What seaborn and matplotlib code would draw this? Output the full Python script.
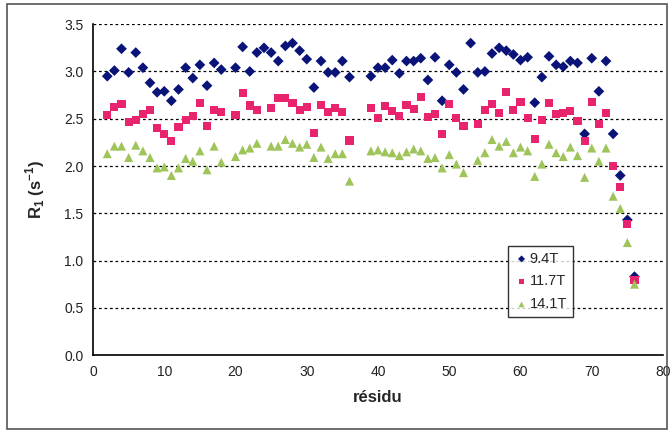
import numpy as np
import pandas as pd
import matplotlib
matplotlib.use("Agg")
import matplotlib.pyplot as plt
from matplotlib.patches import Rectangle
import seaborn as sns

nan = np.nan

# Residue numbers (prolines 19, 37, 38 and residue 1 absent)
residues = list(range(2, 19)) + list(range(20, 37)) + list(range(39, 77))

r1_94 = [2.95, 3.01, 3.24, 2.99, 3.20, 3.04, 2.88, 2.78, 2.79, 2.69, 2.81, 3.04, 2.93, 3.07, 2.85, 3.09, 3.02,
         3.04, 3.26, 3.00, 3.20, 3.25, 3.20, 3.11, 3.27, 3.30, 3.22, 3.13, 2.83, 3.11, 2.99, 2.99, 3.11, 2.94,
         2.95, 3.04, 3.04, 3.12, 2.98, 3.11, 3.11, 3.14, 2.91, 3.15, 2.69, 3.07, 2.99, 2.81, 3.30, 2.99, 3.00,
         3.19, 3.25, 3.22, 3.18, 3.12, 3.15, 2.67, 2.94, 3.16, 3.07, 3.05, 3.11, 3.09, 2.34, 3.14, 2.79, 3.11,
         2.34, 1.90, 1.43, 0.83]

r1_117 = [2.54, 2.62, 2.66, 2.47, 2.49, 2.55, 2.59, 2.40, 2.34, 2.26, 2.41, 2.49, 2.53, 2.67, 2.42, 2.59, 2.57,
          2.54, 2.77, 2.64, 2.59, nan, 2.61, 2.72, 2.72, 2.67, 2.59, 2.62, 2.35, 2.65, 2.57, 2.61, 2.57, 2.27,
          2.61, 2.51, 2.63, 2.58, 2.53, 2.65, 2.60, 2.73, 2.52, 2.55, 2.34, 2.66, 2.51, 2.42, nan, 2.44, 2.59,
          2.66, 2.56, 2.78, 2.59, 2.68, 2.51, 2.29, 2.49, 2.67, 2.55, 2.56, 2.58, 2.48, 2.26, 2.68, 2.44, 2.56,
          2.00, 1.78, 1.39, 0.79]

r1_141 = [2.13, 2.21, 2.21, 2.09, 2.22, 2.16, 2.09, 1.98, 1.99, 1.90, 1.98, 2.08, 2.05, 2.16, 1.96, 2.21, 2.04,
          2.10, 2.17, 2.19, 2.24, nan, 2.21, 2.21, 2.28, 2.24, 2.20, 2.23, 2.09, 2.20, 2.08, 2.13, 2.13, 1.84,
          2.16, 2.17, 2.15, 2.14, 2.11, 2.15, 2.18, 2.16, 2.08, 2.09, 1.98, 2.12, 2.02, 1.93, nan, 2.06, 2.14,
          2.28, 2.21, 2.26, 2.14, 2.20, 2.16, 1.89, 2.02, 2.23, 2.14, 2.10, 2.20, 2.11, 1.88, 2.19, 2.05, 2.19,
          1.68, 1.55, 1.19, 0.75]

fields = ["9.4T", "11.7T", "14.1T"]
y_ticks = [0.0, 0.5, 1.0, 1.5, 2.0, 2.5, 3.0, 3.5]
x_ticks = [0, 10, 20, 30, 40, 50, 60, 70, 80]

df = pd.concat([
    pd.DataFrame({"residu": residues, "R1": vals, "champ": name})
    for name, vals in zip(fields, [r1_94, r1_117, r1_141])
]).dropna()

sns.set_style("white")
plt.rcParams["font.family"] = ["Liberation Sans", "DejaVu Sans"]
plt.rcParams["mathtext.fontset"] = "custom"
plt.rcParams["mathtext.rm"] = "Liberation Sans"
plt.rcParams["mathtext.bf"] = "Liberation Sans:bold"

palette = {"9.4T": "#0a1478", "11.7T": "#e8246e", "14.1T": "#9ec45a"}
markers = {"9.4T": "D", "11.7T": "s", "14.1T": "^"}
sizes = {"9.4T": 30, "11.7T": 34, "14.1T": 42}

fig = plt.figure(figsize=(6.72, 4.32), dpi=100)
ax = fig.add_axes([0.1384, 0.178, 0.8482, 0.766])

for name in fields:
    sub = df[df["champ"] == name]
    sns.scatterplot(data=sub, x="residu", y="R1", color=palette[name], marker=markers[name],
                    s=sizes[name], edgecolor="none", linewidth=0, ax=ax, label=name, zorder=3)

ax.set_xlim(0, 80)
ax.set_ylim(0, 3.5)
ax.set_xticks(x_ticks)
ax.set_yticks(y_ticks)
ax.set_yticklabels([f"{v:.1f}" for v in y_ticks])
ax.tick_params(axis="both", direction="inout", length=6, width=1, color="black",
               labelsize=10, labelcolor="#222222", pad=4)

ax.yaxis.grid(True, linestyle=(0, (2.2, 2.2)), color="black", linewidth=0.9)
ax.xaxis.grid(False)
ax.set_axisbelow(True)
for side in ["top", "right"]:
    ax.spines[side].set_visible(False)
for side in ["left", "bottom"]:
    ax.spines[side].set_color("black")
    ax.spines[side].set_linewidth(1.2)

ax.set_xlabel("résidu", fontsize=12, fontweight="bold", labelpad=8)
ax.set_ylabel(r"R$_\mathbf{1}$ (s$^\mathbf{-1}$)", fontsize=12, fontweight="bold", labelpad=12)

handles, labels = ax.get_legend_handles_labels()
leg = ax.legend(handles, labels, loc="upper left", bbox_to_anchor=(0.716, 0.352),
                frameon=True, fancybox=False, edgecolor="black", fontsize=10.5,
                handletextpad=0.05, handlelength=1.0, borderpad=0.4, labelspacing=0.6,
                markerscale=0.65)
leg.get_frame().set_linewidth(1.0)

# Outer chart frame
fig.patches.append(Rectangle((0.010, 0.008), 0.982, 0.982, transform=fig.transFigure,
                             fill=False, edgecolor="#555555", linewidth=1.2))

fig.savefig("out.png", dpi=100)
